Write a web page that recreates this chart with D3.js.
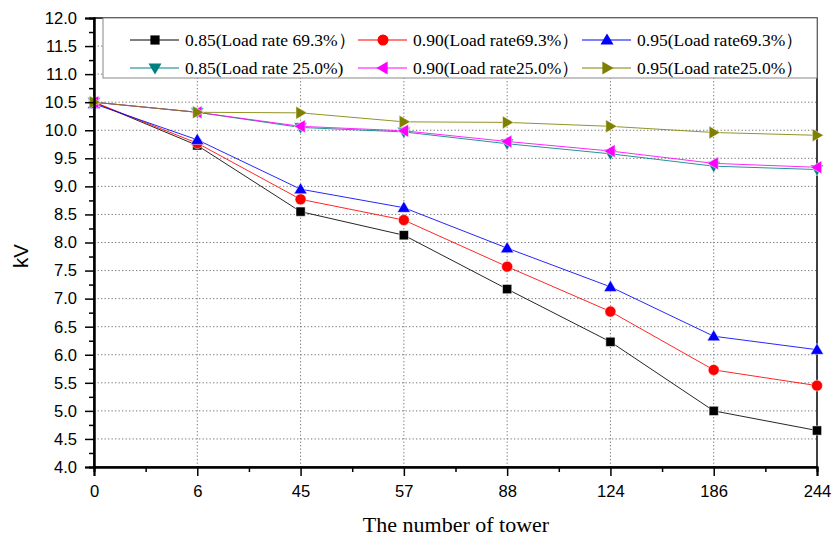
<!DOCTYPE html>
<html>
<head>
<meta charset="utf-8">
<script src="https://cdn.jsdelivr.net/npm/d3@7/dist/d3.min.js"></script>
<style>
html,body{margin:0;padding:0;background:#fff;}
svg{display:block;}
</style>
</head>
<body>
<svg id="chart" width="833" height="538"></svg>
<script>
const towers = ["0","6","45","57","88","124","186","244"];
const yTicks = [4.0,4.5,5.0,5.5,6.0,6.5,7.0,7.5,8.0,8.5,9.0,9.5,10.0,10.5,11.0,11.5,12.0];
const s085_693 = [10.50, 9.73, 8.55, 8.13, 7.17, 6.23, 5.00, 4.65];
const s090_693 = [10.50, 9.77, 8.77, 8.40, 7.57, 6.77, 5.73, 5.45];
const s095_693 = [10.47, 9.83, 8.95, 8.62, 7.90, 7.21, 6.33, 6.09];
const s085_250 = [10.50, 10.32, 10.05, 9.97, 9.76, 9.58, 9.36, 9.30];
const s090_250 = [10.50, 10.32, 10.07, 9.99, 9.80, 9.63, 9.41, 9.34];
const s095_250 = [10.50, 10.32, 10.31, 10.15, 10.14, 10.07, 9.96, 9.91];
const seriesNames = ["0.85(Load rate 69.3%）","0.90(Load rate69.3%）","0.95(Load rate69.3%）",
                     "0.85(Load rate 25.0%)","0.90(Load rate25.0%）","0.95(Load rate25.0%）"];

const series = [
  {name: seriesNames[0], values: s085_693, color: "#000000", marker: "square"},
  {name: seriesNames[1], values: s090_693, color: "#ff0000", marker: "circle"},
  {name: seriesNames[2], values: s095_693, color: "#0000ff", marker: "up"},
  {name: seriesNames[3], values: s085_250, color: "#008080", marker: "down"},
  {name: seriesNames[4], values: s090_250, color: "#ff00ff", marker: "left"},
  {name: seriesNames[5], values: s095_250, color: "#808000", marker: "right"}
];

const L = 94, R = 817, T = 18, B = 467;
const svg = d3.select("#chart");
const x = d3.scalePoint().domain(towers).range([L, R]);
const xi = d3.scaleLinear().domain([0, towers.length - 1]).range([L, R]);
const y = d3.scaleLinear().domain([4, 12]).range([B, T]);

// grid
const grid = svg.append("g");
grid.selectAll("line.h").data(yTicks.filter(v => v > 4 && v < 12)).enter().append("line")
  .attr("x1", L).attr("x2", R).attr("y1", d => y(d)).attr("y2", d => y(d))
  .attr("stroke", "#777").attr("stroke-width", 1).attr("stroke-dasharray", "1.3,2.2");
grid.selectAll("line.v").data(towers.slice(1, -1)).enter().append("line")
  .attr("y1", T).attr("y2", B).attr("x1", d => x(d)).attr("x2", d => x(d))
  .attr("stroke", "#777").attr("stroke-width", 1).attr("stroke-dasharray", "1.3,2.2");

// frame
svg.append("rect").attr("x", L).attr("y", T).attr("width", R - L).attr("height", B - T)
  .attr("fill", "none").attr("stroke", "#000").attr("stroke-width", 1.5);

// symbols
function markerPath(type) {
  switch (type) {
    case "square": return "M-4.6,-4.6H4.6V4.6H-4.6Z";
    case "circle": return d3.symbol(d3.symbolCircle, 95)();
    case "up": return "M0,-6.5L6.5,4.6L-6.5,4.6Z";
    case "down": return "M0,6.5L6.5,-4.6L-6.5,-4.6Z";
    case "left": return "M-6.5,0L4.6,-6.5L4.6,6.5Z";
    case "right": return "M6.5,0L-4.6,-6.5L-4.6,6.5Z";
  }
}

const line = d3.line().x((d, i) => x(towers[i])).y(d => y(d));
series.forEach(s => {
  const g = svg.append("g");
  g.append("path").datum(s.values).attr("d", line)
    .attr("fill", "none").attr("stroke", s.color).attr("stroke-width", 1).attr("opacity", 0.85);
  g.selectAll("path.m").data(s.values).enter().append("path")
    .attr("d", markerPath(s.marker))
    .attr("transform", (d, i) => `translate(${x(towers[i])},${y(d)})`)
    .attr("fill", s.color).attr("stroke", "#fff").attr("stroke-width", 0.5);
});

// axes
const fontSans = "'Liberation Sans', Arial, sans-serif";
const fontSerif = "'Liberation Serif', 'Times New Roman', serif";

const yAxis = svg.append("g").attr("transform", `translate(${L},0)`)
  .call(d3.axisLeft(y).tickValues(yTicks).tickFormat(d3.format(".1f")).tickSize(9).tickPadding(8));
const yMinor = svg.append("g").attr("transform", `translate(${L},0)`)
  .call(d3.axisLeft(y).tickValues(yTicks.slice(0, -1).map(v => v + 0.25)).tickFormat("").tickSize(5));
const xAxis = svg.append("g").attr("transform", `translate(0,${B})`)
  .call(d3.axisBottom(x).tickSize(9).tickPadding(9));
const xMinor = svg.append("g").attr("transform", `translate(0,${B})`)
  .call(d3.axisBottom(xi).tickValues(d3.range(0.5, towers.length - 1, 1)).tickFormat("").tickSize(5));

[yAxis, yMinor, xAxis, xMinor].forEach(a => {
  a.attr("font-size", null).attr("font-family", null);
  a.select(".domain").attr("stroke", "#000").attr("stroke-width", 2);
  a.selectAll(".tick line").attr("stroke", "#000").attr("stroke-width", 1.5);
  a.selectAll("text").style("font-family", fontSans).style("font-size", "16.6px").attr("fill", "#000");
});

// axis titles
svg.append("text").attr("transform", `translate(28,256) rotate(-90)`)
  .attr("text-anchor", "middle").style("font-family", fontSans).style("font-size", "20.5px")
  .text("kV");
svg.append("text").attr("x", 456).attr("y", 532)
  .attr("text-anchor", "middle").style("font-family", fontSerif).style("font-size", "22px")
  .text("The number of tower");

// legend
const lg = svg.append("g");
lg.append("rect").attr("x", 103).attr("y", T).attr("width", R - 103).attr("height", 60)
  .attr("fill", "#fff").attr("stroke", "#888").attr("stroke-width", 1);
const colX = [130, 358, 582];
const rowY = [40, 68];
series.forEach((s, i) => {
  const cx = colX[i % 3], cy = rowY[Math.floor(i / 3)];
  const item = lg.append("g");
  item.append("line").attr("x1", cx).attr("x2", cx + 49).attr("y1", cy).attr("y2", cy)
    .attr("stroke", s.color).attr("stroke-width", 1);
  item.append("path").attr("d", markerPath(s.marker))
    .attr("transform", `translate(${cx + 25},${cy})`).attr("fill", s.color);
  item.append("text").attr("x", cx + 55).attr("y", cy).attr("dy", "0.35em")
    .style("font-family", fontSerif).style("font-size", "17.5px").attr("fill", "#000")
    .text(s.name);
});
</script>
</body>
</html>
